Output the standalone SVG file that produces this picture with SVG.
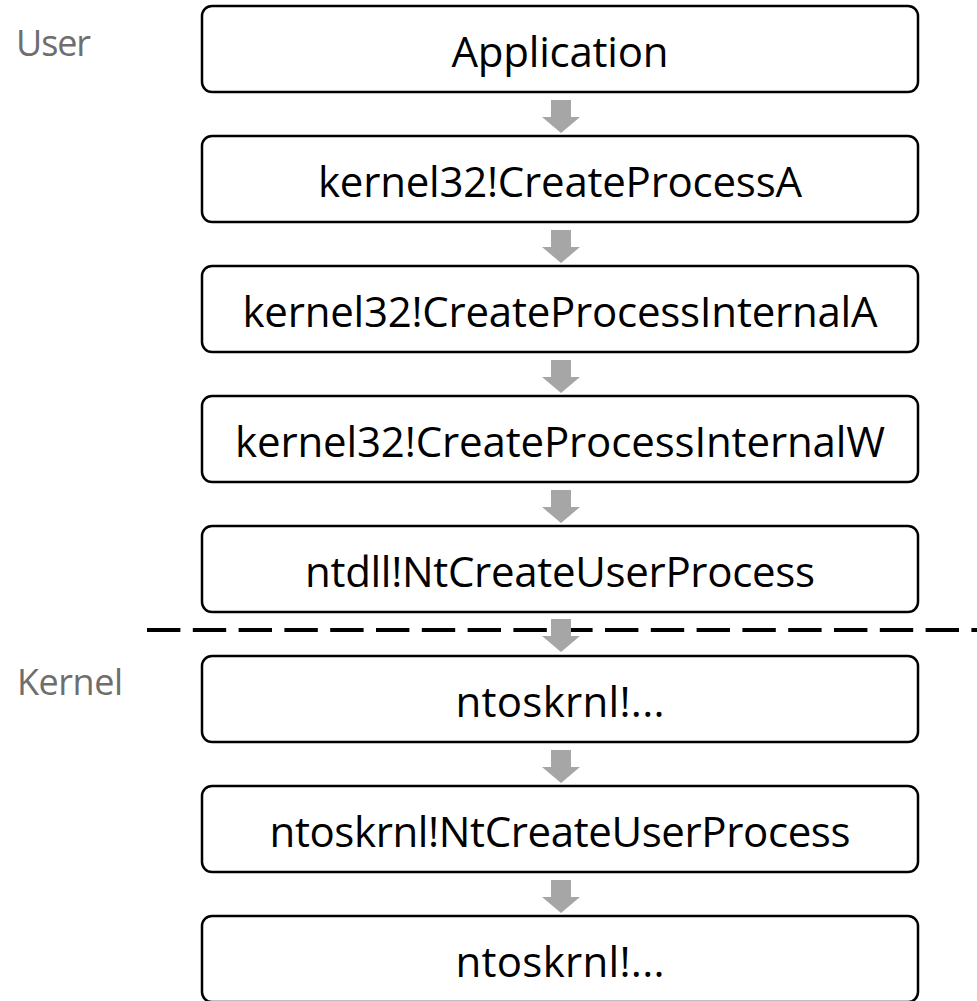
<svg xmlns="http://www.w3.org/2000/svg" width="977" height="1001" viewBox="0 0 977 1001">
  <style>
    .box { fill: #ffffff; stroke: #000000; stroke-width: 2.5; }
    .label { font-family: "Open Sans", "Liberation Sans", sans-serif; font-size: 42px; fill: #000000; text-anchor: middle; }
    .side { font-family: "Open Sans", "Liberation Sans", sans-serif; font-size: 36px; fill: #6e6e6e; }
    .arrow { fill: #a6a6a6; stroke: none; }
    .divider { stroke: #000000; stroke-width: 4; stroke-dasharray: 33.4 12.4; fill: none; }
  </style>
  <defs>
    <!-- block arrow pointing down, origin at top centre -->
    <path id="down" d="M -10 0 H 10 V 17 H 19 L 0 33 L -19 17 H -10 Z"/>
  </defs>

  <rect width="977" height="1001" fill="#ffffff"/>

  <!-- layer labels -->
  <text class="side" x="16" y="56" textLength="75">User</text>
  <text class="side" x="17" y="695" textLength="106">Kernel</text>

  <!-- user / kernel boundary -->
  <line class="divider" x1="147" y1="630" x2="977" y2="630"/>

  <g id="n1"><rect class="box" x="202" y="6" width="716" height="86" rx="10"/><text class="label" x="560" y="66.5" textLength="217">Application</text></g>
  <g id="n2"><rect class="box" x="202" y="136" width="716" height="86" rx="10"/><text class="label" x="560" y="196.5" textLength="484">kernel32!CreateProcessA</text></g>
  <g id="n3"><rect class="box" x="202" y="266" width="716" height="86" rx="10"/><text class="label" x="560" y="326.5" textLength="635">kernel32!CreateProcessInternalA</text></g>
  <g id="n4"><rect class="box" x="202" y="396" width="716" height="86" rx="10"/><text class="label" x="560" y="456.5" textLength="650">kernel32!CreateProcessInternalW</text></g>
  <g id="n5"><rect class="box" x="202" y="526" width="716" height="86" rx="10"/><text class="label" x="560" y="586.5" textLength="510">ntdll!NtCreateUserProcess</text></g>
  <g id="n6"><rect class="box" x="202" y="656" width="716" height="86" rx="10"/><text class="label" x="560" y="716.5" textLength="209">ntoskrnl!...</text></g>
  <g id="n7"><rect class="box" x="202" y="786" width="716" height="86" rx="10"/><text class="label" x="560" y="846.5" textLength="581">ntoskrnl!NtCreateUserProcess</text></g>
  <g id="n8"><rect class="box" x="202" y="916" width="716" height="86" rx="10"/><text class="label" x="560" y="976.5" textLength="209">ntoskrnl!...</text></g>

  <!-- call arrows between consecutive boxes -->
  <g id="connectors" class="arrow">
    <use href="#down" x="561" y="100"/>
    <use href="#down" x="561" y="230"/>
    <use href="#down" x="561" y="360"/>
    <use href="#down" x="561" y="490"/>
    <use href="#down" x="561" y="619"/>
    <use href="#down" x="561" y="750"/>
    <use href="#down" x="561" y="880"/>
  </g>
</svg>
